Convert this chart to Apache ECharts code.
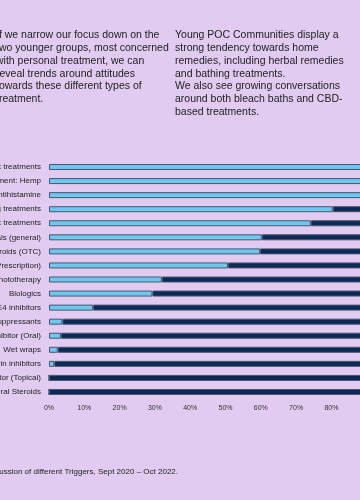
<!DOCTYPE html>
<html>
<head>
<meta charset="utf-8">
<script src="https://cdn.jsdelivr.net/npm/echarts@6/dist/echarts.min.js"></script>
<style>
html,body{margin:0;padding:0;background:#e1cbf1;}
#c{width:360px;height:500px;}
</style>
</head>
<body>
<div id="c"></div>
<script>
const categories = [
  "Plant treatments",
  "CBD treatment: Hemp",
  "Antihistamine",
  "Bathing treatments",
  "Diet treatments",
  "Topicals (general)",
  "Topical Steroids (OTC)",
  "Topical Steroids (Prescription)",
  "Phototherapy",
  "Biologics",
  "PDE4 inhibitors",
  "Immunosuppressants",
  "JAK Inhibitor (Oral)",
  "Wet wraps",
  "Calcineurin inhibitors",
  "JAK Inhibitor (Topical)",
  "Oral Steroids"
];
const youngPOC = [97, 95, 93, 80.4, 74.2, 60.3, 59.8, 50.7, 32, 29.3, 12.5, 3.8, 3.4, 2.5, 1.5, 0, 0];
const others = [3, 5, 7, 19.6, 25.8, 39.7, 40.2, 49.3, 68, 70.7, 87.5, 96.2, 96.6, 97.5, 98.5, 100, 100];
const xTicks = [0, 10, 20, 30, 40, 50, 60, 70, 80, 90, 100];

const leftText = "If we narrow our focus down on the\ntwo younger groups, most concerned\nwith personal treatment, we can\nreveal trends around attitudes\ntowards these different types of\ntreatment.";
const rightText = "Young POC Communities display a\nstrong tendency towards home\nremedies, including herbal remedies\nand bathing treatments.\nWe also see growing conversations\naround both bleach baths and CBD-\nbased treatments.";
const footText = "Share of discussion of different Triggers, Sept 2020 \u2013 Oct 2022.";

const chart = echarts.init(document.getElementById('c'), null, {renderer: 'canvas'});
const border = {borderColor: '#4a5470', borderWidth: 1};
chart.setOption({
  backgroundColor: '#e1cbf1',
  animation: false,
  grid: {left: 49, right: -42, top: 160, bottom: 101, containLabel: false, outerBoundsMode: 'none'},
  xAxis: {
    type: 'value', min: 0, max: 100, interval: 10,
    axisLine: {show: false}, axisTick: {show: false}, splitLine: {show: false},
    axisLabel: {
      formatter: v => xTicks.includes(v) ? v + '%' : '',
      fontSize: 7, color: '#333', fontFamily: 'Liberation Sans', margin: 6
    }
  },
  yAxis: {
    type: 'category', data: categories, inverse: true,
    axisLine: {show: false}, axisTick: {show: false}, splitLine: {show: false},
    axisLabel: {fontSize: 8, color: '#222', fontFamily: 'Liberation Sans', margin: 8}
  },
  series: [
    {type: 'bar', stack: 's', data: youngPOC, barWidth: 6,
     itemStyle: Object.assign({color: '#6dc8ee'}, border)},
    {type: 'bar', stack: 's', data: others, barWidth: 6,
     itemStyle: Object.assign({color: '#0b2a56'}, border)}
  ],
  graphic: [
    {type: 'text', left: -4, top: 29, style: {text: leftText, font: '10.5px "Liberation Sans"', fill: '#222', lineHeight: 12.8}},
    {type: 'text', left: 175, top: 29, style: {text: rightText, font: '10.5px "Liberation Sans"', fill: '#222', lineHeight: 12.8}},
    {type: 'text', right: 182, top: 468, style: {text: footText, font: '8px "Liberation Sans"', fill: '#222', textAlign: 'right'}}
  ]
});
</script>
</body>
</html>
